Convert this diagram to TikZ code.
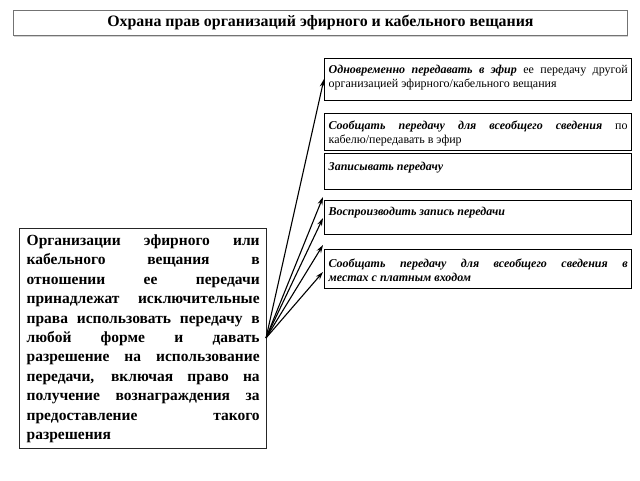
\documentclass[tikz,border=0pt]{standalone}
\usepackage{fontspec}
\setmainfont{Liberation Serif}
\usetikzlibrary{arrows.meta,shadows}
\begin{document}
\begin{tikzpicture}[x=1pt,y=-1pt,
  titlebox/.style={draw=black!55,line width=0.9pt,fill=white,anchor=north west,
    minimum width=614pt,minimum height=25pt,inner sep=0pt,
    font=\fontsize{15.9}{17}\selectfont\bfseries,
    drop shadow={shadow xshift=1pt,shadow yshift=-1.5pt,fill=black!35}},
  leftbox/.style={draw=black!85,line width=1.4pt,anchor=north west,
    minimum width=247pt,minimum height=220pt,inner xsep=7pt,inner ysep=0pt,
    text width=233pt,align=justify,
    font=\fontsize{15.5}{19.4}\selectfont\bfseries},
  rbox/.style={draw=black,line width=1.3pt,anchor=north west,inner xsep=4pt,inner ysep=0pt,
    font=\fontsize{12}{13.8}\selectfont},
  arr/.style={-{Stealth[length=8pt,width=5pt]},line width=1.1pt,black}]
\useasboundingbox (0,0) rectangle (640,480);
\node[titlebox] (t) at (13,10) {Охрана прав организаций эфирного и кабельного вещания};
\node[leftbox] (L) at (19,228) {Организации эфирного или\linebreak кабельного вещания в\linebreak отношении ее передачи\linebreak принадлежат исключительные\linebreak права использовать передачу в\linebreak любой форме и давать\linebreak разрешение на использование\linebreak передачи, включая право на\linebreak получение вознаграждения за\linebreak предоставление такого\linebreak разрешения};
\newcommand{\rtext}[3]{\parbox[t][#1][t]{299pt}{\vspace{0pt}\vspace{#2}\strut#3}}
\node[rbox] (b1) at (324,58) {\rtext{42pt}{5.5pt}{\textbf{\textit{Одновременно передавать в эфир}} ее передачу другой\linebreak организацией эфирного/кабельного вещания}};
\node[rbox] (b2) at (324,113) {\rtext{37pt}{6.5pt}{\textbf{\textit{Сообщать передачу для всеобщего сведения}} по\linebreak кабелю/передавать в эфир}};
\node[rbox] (b3) at (324,153) {\rtext{36pt}{7pt}{\textbf{\textit{Записывать передачу}}}};
\node[rbox] (b4) at (324,200) {\rtext{34pt}{5.5pt}{\textbf{\textit{Воспроизводить запись передачи}}}};
\node[rbox] (b5) at (324,249) {\rtext{39pt}{8.5pt}{\textbf{\textit{Сообщать передачу для всеобщего сведения в\linebreak местах с платным входом}}}};
\coordinate (s) at (266,338);
\coordinate (e1) at (324,79);
\coordinate (e2) at (323,197);
\coordinate (e3) at (323,218);
\coordinate (e4) at (323,245);
\coordinate (e5) at (323,272);
\foreach \e in {e1,e2,e3,e4,e5} \draw[arr] (s) -- (\e);
\end{tikzpicture}
\end{document}
